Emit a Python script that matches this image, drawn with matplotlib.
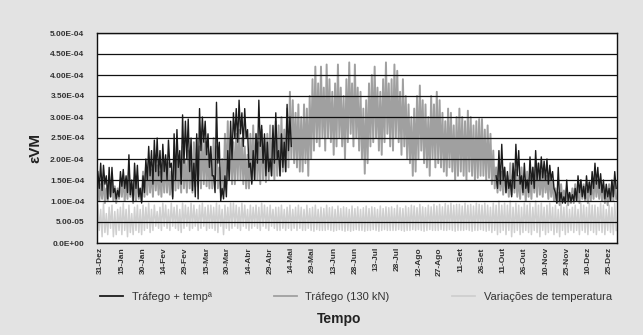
import numpy as np
import matplotlib
matplotlib.use("Agg")
import matplotlib.pyplot as plt

plt.rcParams['font.family'] = ['Liberation Sans', 'DejaVu Sans']

# ---- axis categories ----
tick_days = list(range(0, 361, 15))
tick_labels = ["31-Dez", "15-Jan", "30-Jan", "14-Fev", "29-Fev", "15-Mar", "30-Mar",
               "14-Abr", "29-Abr", "14-Mai", "29-Mai", "13-Jun", "28-Jun", "13-Jul",
               "28-Jul", "12-Ago", "27-Ago", "11-Set", "26-Set", "11-Out", "26-Out",
               "10-Nov", "25-Nov", "10-Dez", "25-Dez"]
y_ticks = [0, 0.5e-4, 1.0e-4, 1.5e-4, 2.0e-4, 2.5e-4, 3.0e-4, 3.5e-4, 4.0e-4, 4.5e-4, 5.0e-4]
y_tick_labels = ["0.0E+00", "5.00-05", "1.00E-04", "1.50E-04", "2.00E-04", "2.50E-04",
                 "3.00E-04", "3.50E-04", "4.00E-04", "4.50E-04", "5.00E-04"]

# ---- series (values in 1e-4), daily max / min every 2 days ----
# Tráfego + temp (winter part, from day -2)
dark_w_start = -2
dark_w_hi = [1.7, 1.9, 1.85, 1.6, 1.8, 1.8, 1.3, 1.25, 1.7, 1.75, 1.6, 2.1, 1.5, 1.9, 1.85, 1.3,
             1.6, 2.0, 2.3, 2.2, 2.45, 2.5, 2.2, 2.35, 2.1, 2.45, 1.9, 2.6, 2.7, 2.2, 3.05, 2.9,
             2.95, 2.5, 1.9, 2.6, 3.2, 3.0, 2.9, 2.6, 2.3, 1.6, 3.35, 2.4, 1.3, 1.6, 2.2, 2.9,
             3.1, 3.2, 3.4, 3.1, 3.2, 2.7, 1.9, 2.2, 2.6, 3.4, 2.8, 2.6, 2.4, 2.0, 2.8, 3.1,
             2.2, 2.6, 2.4, 3.3, 3.0]
dark_w_lo = [1.3, 1.25, 1.4, 1.05, 1.1, 1.2, 1.05, 1.1, 1.35, 1.3, 1.2, 1.15, 1.0, 1.3, 1.1, 0.95,
             1.2, 1.5, 1.6, 1.4, 1.7, 1.6, 1.45, 1.7, 1.5, 1.8, 1.05, 1.5, 1.8, 1.4, 1.9, 2.0,
             1.7, 1.25, 1.1, 1.05, 2.2, 2.4, 2.1, 1.8, 1.6, 1.2, 1.9, 1.0, 1.05, 1.1, 1.5, 2.0,
             2.5, 2.4, 2.6, 2.3, 2.5, 1.8, 1.4, 1.5, 1.9, 2.3, 1.9, 1.6, 1.7, 1.6, 1.9, 2.0,
             1.6, 1.8, 1.7, 2.2, 2.3]
# Tráfego + temp (autumn part, from day 280)
dark_a_start = 280
dark_a_hi = [1.6, 2.2, 2.35, 1.8, 1.7, 1.5, 1.9, 2.35, 2.2, 1.6, 1.9, 1.5, 2.05, 1.8, 2.2, 1.9,
             2.05, 1.95, 2.0, 1.85, 1.7, 1.2, 1.8, 1.2, 1.1, 1.5, 1.2, 1.15, 1.3, 1.6, 1.5, 1.35,
             1.6, 1.45, 1.7, 1.9, 1.8, 1.65, 1.5, 1.4, 1.3, 1.5, 1.7]
dark_a_lo = [1.3, 1.4, 1.5, 1.2, 1.3, 1.1, 1.3, 1.6, 1.4, 1.2, 1.3, 1.2, 1.4, 1.3, 1.5, 1.5,
             1.55, 1.5, 1.4, 1.5, 1.3, 0.95, 1.0, 0.95, 0.95, 1.0, 0.98, 1.0, 1.0, 1.2, 1.1, 1.05,
             1.2, 1.15, 1.3, 1.4, 1.3, 1.2, 1.05, 1.1, 1.0, 1.1, 1.3]

# Tráfego (130 kN), from day -2
traf_start = -2
traf_hi = [1.5, 1.4, 1.55, 1.3, 1.45, 1.6, 1.35, 1.3,
           1.5, 1.6, 1.45, 1.7, 1.4, 1.55, 1.6, 1.3,
           1.7, 1.8, 1.9, 1.75, 2.0, 1.85, 1.7, 1.9,
           2.0, 1.9, 1.7, 2.1, 2.2, 1.95, 2.3, 2.0,
           2.2, 1.9, 2.4, 2.5, 2.3, 2.6, 2.4, 2.2,
           2.1, 2.5, 2.3, 1.8, 2.0, 2.6, 2.9, 2.5,
           2.4, 2.6, 2.7, 2.5, 2.3, 2.1, 2.6, 2.8,
           2.6, 2.4, 2.7, 2.5, 2.6, 2.8, 2.6, 2.9,
           2.8, 3.0, 2.7, 3.2, 3.6, 3.4, 3.1, 3.3,
           3.0, 3.3, 3.2, 3.5, 3.9, 4.2, 3.8, 4.2,
           3.7, 4.25, 3.9, 3.6, 3.8, 4.25, 3.7, 3.5,
           3.9, 4.3, 3.8, 4.25, 3.7, 3.6, 3.2, 3.4,
           3.8, 4.0, 4.2, 3.7, 3.6, 3.9, 4.3, 3.8,
           3.9, 4.25, 4.1, 3.6, 3.9, 3.5, 3.3, 3.0,
           3.2, 3.5, 3.75, 3.4, 3.3, 3.0, 3.5, 3.3,
           3.6, 3.4, 3.1, 2.9, 3.2, 3.1, 2.8, 3.0,
           3.2, 3.0, 2.9, 3.15, 3.0, 2.8, 2.9, 2.95,
           2.95, 2.7, 2.8, 2.6, 2.2, 1.8, 1.9, 1.7,
           1.8, 1.6, 1.9, 1.7, 1.75, 1.6, 1.8, 1.5,
           1.7, 1.6, 1.8, 1.75, 1.9, 1.7, 1.8, 1.6,
           1.7, 1.5, 1.3, 1.2, 1.4, 1.25, 1.3, 1.2,
           1.3, 1.4, 1.35, 1.5, 1.4, 1.3, 1.45, 1.5,
           1.6, 1.5, 1.45, 1.35, 1.3, 1.4, 1.45, 1.5]
traf_lo = [1.0, 1.05, 0.95, 1.0, 1.1, 1.0, 0.95, 1.05,
           1.1, 1.0, 1.05, 1.1, 0.95, 1.0, 1.05, 1.0,
           1.1, 1.15, 1.2, 1.1, 1.25, 1.15, 1.1, 1.2,
           1.2, 1.15, 1.1, 1.25, 1.3, 1.2, 1.3, 1.2,
           1.3, 1.2, 1.35, 1.4, 1.3, 1.4, 1.35, 1.3,
           1.3, 1.4, 1.3, 1.2, 1.25, 1.4, 1.5, 1.4,
           1.4, 1.5, 1.5, 1.4, 1.3, 1.3, 1.45, 1.5,
           1.5, 1.4, 1.5, 1.45, 1.5, 1.6, 1.5, 1.6,
           1.6, 1.7, 1.7, 1.8, 2.0, 1.9, 1.8, 1.7,
           1.7, 1.9, 1.6, 2.0, 2.2, 2.4, 2.3, 2.5,
           2.2, 2.5, 2.4, 2.1, 2.3, 2.5, 2.3, 2.0,
           2.4, 2.6, 2.3, 2.5, 2.2, 2.0, 1.65, 1.9,
           2.3, 2.4, 2.5, 2.2, 2.1, 2.4, 2.6, 2.3,
           2.2, 2.5, 2.4, 2.1, 2.3, 2.0, 1.9, 1.6,
           1.7, 2.0, 2.2, 1.9, 1.8, 1.6, 2.0, 1.8,
           1.9, 1.8, 1.7, 1.6, 1.8, 1.7, 1.5, 1.6,
           1.7, 1.6, 1.5, 1.7, 1.6, 1.5, 1.55, 1.6,
           1.6, 1.5, 1.55, 1.4, 1.3, 1.2, 1.25, 1.15,
           1.2, 1.1, 1.15, 1.2, 1.1, 1.05, 1.15, 1.0,
           1.1, 1.05, 1.2, 1.1, 1.15, 1.1, 1.2, 1.05,
           1.1, 1.0, 0.95, 0.9, 1.0, 0.95, 0.9, 0.95,
           0.95, 1.0, 0.95, 1.05, 1.0, 0.95, 1.0, 1.05,
           1.1, 1.05, 1.0, 0.95, 0.9, 1.0, 1.0, 1.05]

# Variações de temperatura, from day -2
temp_start = -2
temp_hi = [0.9, 0.8, 0.95, 0.7, 0.85, 0.9, 0.75, 0.8,
           0.85, 0.95, 0.8, 0.9, 0.7, 0.85, 0.9, 0.8,
           0.9, 0.85, 0.95, 0.8, 0.9, 0.75, 0.85, 0.95,
           0.9, 0.8, 0.95, 0.85, 0.9, 0.8, 0.95, 0.9,
           0.85, 0.95, 0.9, 0.8, 0.9, 0.95, 0.85, 0.9,
           0.9, 0.85, 0.95, 0.9, 0.8, 0.9, 0.85, 0.95,
           0.95, 0.9, 0.85, 0.95, 0.9, 0.8, 0.9, 0.85,
           0.9, 0.85, 0.95, 0.9, 0.85, 0.9, 0.8, 0.85,
           0.85, 0.9, 0.8, 0.85, 0.9, 0.8, 0.85, 0.9,
           0.85, 0.8, 0.9, 0.82, 0.85, 0.9, 0.8, 0.85,
           0.82, 0.9, 0.84, 0.86, 0.8, 0.88, 0.82, 0.86,
           0.84, 0.8, 0.88, 0.82, 0.86, 0.8, 0.84, 0.88,
           0.82, 0.86, 0.84, 0.8, 0.88, 0.82, 0.86, 0.84,
           0.86, 0.82, 0.9, 0.84, 0.82, 0.88, 0.84, 0.9,
           0.88, 0.84, 0.92, 0.86, 0.84, 0.9, 0.86, 0.92,
           0.88, 0.92, 0.86, 0.94, 0.9, 0.95, 0.9, 0.92,
           0.92, 0.88, 0.95, 0.9, 0.92, 0.88, 0.95, 0.92,
           0.9, 0.95, 0.9, 0.85, 0.95, 0.9, 1.0, 0.9,
           0.95, 0.9, 1.0, 0.85, 0.95, 0.9, 0.85, 0.95,
           0.9, 0.95, 0.85, 1.0, 0.9, 0.95, 0.85, 0.9,
           0.95, 0.85, 0.9, 0.8, 0.95, 0.85, 0.9, 0.8,
           0.85, 0.9, 0.8, 0.95, 0.9, 0.85, 0.95, 0.9,
           0.9, 0.85, 0.95, 0.9, 0.8, 0.9, 0.85, 0.95]
temp_lo = [0.3, 0.15, 0.25, 0.2, 0.35, 0.15, 0.2, 0.3,
           0.2, 0.3, 0.15, 0.25, 0.2, 0.3, 0.25, 0.2,
           0.3, 0.35, 0.25, 0.3, 0.4, 0.35, 0.3, 0.4,
           0.35, 0.3, 0.4, 0.35, 0.3, 0.25, 0.35, 0.4,
           0.3, 0.35, 0.4, 0.3, 0.35, 0.4, 0.3, 0.35,
           0.35, 0.3, 0.25, 0.4, 0.2, 0.35, 0.3, 0.35,
           0.4, 0.35, 0.3, 0.4, 0.35, 0.3, 0.35, 0.4,
           0.35, 0.3, 0.4, 0.35, 0.3, 0.4, 0.35, 0.3,
           0.3, 0.35, 0.3, 0.35, 0.3, 0.35, 0.3, 0.35,
           0.3, 0.3, 0.35, 0.3, 0.28, 0.32, 0.3, 0.3,
           0.3, 0.32, 0.3, 0.28, 0.3, 0.32, 0.3, 0.28,
           0.3, 0.28, 0.3, 0.32, 0.3, 0.3, 0.28, 0.3,
           0.3, 0.32, 0.3, 0.28, 0.3, 0.32, 0.3, 0.3,
           0.3, 0.3, 0.32, 0.3, 0.28, 0.3, 0.3, 0.32,
           0.3, 0.32, 0.3, 0.28, 0.3, 0.32, 0.3, 0.3,
           0.3, 0.32, 0.3, 0.3, 0.32, 0.3, 0.28, 0.3,
           0.3, 0.3, 0.32, 0.3, 0.28, 0.3, 0.3, 0.32,
           0.3, 0.28, 0.3, 0.25, 0.3, 0.2, 0.25, 0.3,
           0.2, 0.3, 0.15, 0.25, 0.3, 0.2, 0.25, 0.3,
           0.25, 0.2, 0.3, 0.25, 0.15, 0.3, 0.2, 0.25,
           0.3, 0.2, 0.25, 0.15, 0.3, 0.2, 0.25, 0.3,
           0.25, 0.3, 0.2, 0.3, 0.25, 0.2, 0.3, 0.25,
           0.2, 0.3, 0.25, 0.2, 0.3, 0.25, 0.2, 0.3]

SCALE = 1e-4


def zigzag(start, hi, lo):
    """Interleave daily max (even days) and min (odd days) in plotting order."""
    n = len(hi)
    x = np.empty(2 * n)
    y = np.empty(2 * n)
    x[0::2] = start + 2 * np.arange(n)
    x[1::2] = start + 2 * np.arange(n) + 1
    y[0::2] = np.asarray(hi) * SCALE
    y[1::2] = np.asarray(lo) * SCALE
    return x, y


fig = plt.figure(figsize=(6.43, 3.35), dpi=100, facecolor='#e3e3e3')
ax = fig.add_axes([97 / 643, 1 - 243 / 335, (617 - 97) / 643, (243 - 33) / 335])
ax.set_facecolor('white')

c_dark = '#1c1c1c'
c_traf = '#a0a0a0'
c_temp = '#cfcfcf'

xt, yt = zigzag(temp_start, temp_hi, temp_lo)
l_temp, = ax.plot(xt, yt, color=c_temp, lw=1.1, label='Variações de temperatura', zorder=1.0)
xg, yg = zigzag(traf_start, traf_hi, traf_lo)
l_traf, = ax.plot(xg, yg, color=c_traf, lw=1.4, label='Tráfego (130 kN)', zorder=1.5)
xd1, yd1 = zigzag(dark_w_start, dark_w_hi, dark_w_lo)
l_dark, = ax.plot(xd1, yd1, color=c_dark, lw=1.0, label='Tráfego + tempª', zorder=2.0)
xd2, yd2 = zigzag(dark_a_start, dark_a_hi, dark_a_lo)
ax.plot(xd2, yd2, color=c_dark, lw=1.0, zorder=2.0)

ax.set_xlim(-2.6, 365.6)
ax.set_ylim(0, 5e-4)
ax.set_yticks(y_ticks)
ax.set_yticklabels(y_tick_labels, fontsize=6, color='#333333', fontweight='bold')
ax.set_xticks(tick_days)
ax.set_xticklabels(tick_labels, rotation=90, fontsize=6, color='#333333', fontweight='bold')
ax.tick_params(axis='y', length=0, pad=9)
ax.tick_params(axis='x', length=0, pad=3)
ax.set_axisbelow(False)
ax.yaxis.grid(True, color='#111111', lw=0.9)
for s in ax.spines.values():
    s.set_color('#111111')
    s.set_linewidth(1.0)
    s.set_zorder(6)

fig.text(35 / 643, 1 - 148 / 335, 'εVM', rotation=90, ha='center', va='center',
         fontsize=11, fontweight='bold', color='#222222')
fig.text(339 / 643, 1 - 319 / 335, 'Tempo', ha='center', va='center',
         fontsize=10, fontweight='bold', color='#222222')

leg = fig.legend(handles=[l_dark, l_traf, l_temp], loc='center left',
                 bbox_to_anchor=(100 / 643, 1 - 297 / 335), ncol=3, frameon=False,
                 fontsize=8, handlelength=2.1, handletextpad=0.75, columnspacing=5.6,
                 borderaxespad=0, borderpad=0)
for t in leg.get_texts():
    t.set_color('#333333')
for h in leg.legend_handles:
    h.set_linewidth(1.3)

fig.savefig('out.png', dpi=100, facecolor=fig.get_facecolor())
